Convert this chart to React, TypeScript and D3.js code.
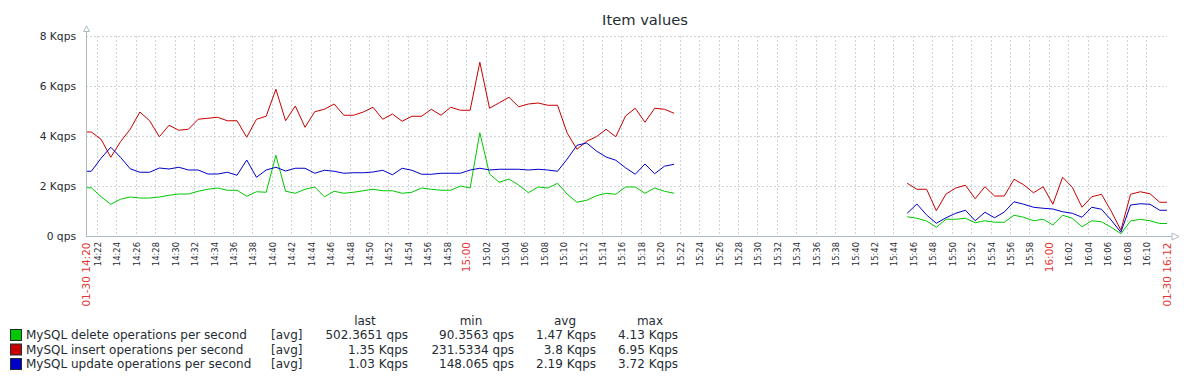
import React from "react";
import * as d3 from "d3";

const TITLE = "Item values";
const SERIES_NAMES = [
  "MySQL delete operations per second",
  "MySQL insert operations per second",
  "MySQL update operations per second",
];
const SERIES_COLORS = ["#00C800", "#C80000", "#0000C8"];
const LEGEND_FUNC = ["[avg]", "[avg]", "[avg]"];
const LEGEND_HEADERS = ["last", "min", "avg", "max"];
const STAT_LAST = ["502.3651 qps", "1.35 Kqps", "1.03 Kqps"];
const STAT_MIN = ["90.3563 qps", "231.5334 qps", "148.065 qps"];
const STAT_AVG = ["1.47 Kqps", "3.8 Kqps", "2.19 Kqps"];
const STAT_MAX = ["4.13 Kqps", "6.95 Kqps", "3.72 Kqps"];

const VIEW_START = new Date(2024, 0, 30, 14, 20, 52);
const VIEW_END = new Date(2024, 0, 30, 16, 12, 10);
const SEG1_START = new Date(2024, 0, 30, 14, 21, 25);
const SEG2_START = new Date(2024, 0, 30, 15, 45, 25);

// values in Kqps, one per minute
const deleteSeg1 = [1.93, 1.57, 1.27, 1.47, 1.56, 1.52, 1.52, 1.56, 1.63, 1.68, 1.68, 1.79, 1.87, 1.92, 1.83, 1.83, 1.59, 1.77, 1.75, 3.23, 1.79, 1.71, 1.87, 1.96, 1.57, 1.79, 1.71, 1.75, 1.81, 1.87, 1.81, 1.81, 1.71, 1.75, 1.92, 1.87, 1.83, 1.83, 2.0, 1.92, 4.13, 2.48, 2.15, 2.28, 2.04, 1.73, 1.96, 1.92, 2.11, 1.67, 1.35, 1.43, 1.61, 1.71, 1.67, 1.96, 1.96, 1.71, 1.92, 1.79, 1.71];
const insertSeg1 = [4.16, 3.87, 3.15, 3.77, 4.27, 4.96, 4.61, 3.97, 4.43, 4.23, 4.27, 4.67, 4.71, 4.75, 4.61, 4.61, 3.95, 4.67, 4.79, 5.87, 4.61, 5.2, 4.35, 4.97, 5.07, 5.28, 4.83, 4.83, 4.96, 5.15, 4.67, 4.88, 4.59, 4.79, 4.79, 5.07, 4.83, 5.15, 5.03, 5.03, 6.95, 5.11, 5.33, 5.55, 5.17, 5.28, 5.32, 5.23, 5.23, 4.11, 3.47, 3.79, 3.97, 4.27, 3.97, 4.8, 5.11, 4.55, 5.11, 5.07, 4.91];
const updateSeg1 = [2.59, 3.11, 3.55, 3.15, 2.69, 2.55, 2.55, 2.72, 2.68, 2.75, 2.64, 2.64, 2.48, 2.48, 2.55, 2.43, 3.04, 2.35, 2.64, 2.75, 2.6, 2.71, 2.71, 2.51, 2.63, 2.59, 2.51, 2.53, 2.53, 2.56, 2.63, 2.45, 2.71, 2.63, 2.47, 2.47, 2.51, 2.51, 2.51, 2.64, 2.71, 2.64, 2.67, 2.67, 2.67, 2.64, 2.67, 2.64, 2.59, 3.08, 3.63, 3.72, 3.4, 3.16, 3.03, 2.73, 2.47, 2.88, 2.49, 2.79, 2.87];

const deleteSeg2 = [0.77, 0.71, 0.6, 0.35, 0.67, 0.67, 0.71, 0.53, 0.61, 0.55, 0.55, 0.83, 0.75, 0.61, 0.67, 0.44, 0.83, 0.71, 0.37, 0.61, 0.57, 0.35, 0.09, 0.6, 0.67, 0.61, 0.5];
const insertSeg2 = [2.11, 1.87, 1.87, 1.01, 1.68, 1.92, 2.03, 1.49, 1.97, 1.6, 1.6, 2.27, 2.05, 1.73, 1.97, 1.27, 2.35, 1.95, 1.15, 1.57, 1.67, 1.0, 0.23, 1.67, 1.77, 1.69, 1.35];
const updateSeg2 = [0.91, 1.28, 0.84, 0.51, 0.73, 0.91, 1.03, 0.61, 0.95, 0.73, 0.96, 1.37, 1.27, 1.15, 1.11, 1.08, 0.97, 0.91, 0.75, 1.15, 1.07, 0.64, 0.15, 1.24, 1.29, 1.27, 1.03];

const SEG1 = [deleteSeg1, insertSeg1, updateSeg1];
const SEG2 = [deleteSeg2, insertSeg2, updateSeg2];

const Y_TICKS = [0, 2, 4, 6, 8];
const Y_LABELS = ["0 qps", "2 Kqps", "4 Kqps", "6 Kqps", "8 Kqps"];

const W = 1198;
const H = 382;
const PLOT = { left: 86, right: 1167, top: 36, bottom: 236 };
const FONT = "'DejaVu Sans', Verdana, sans-serif";
const TEXT = "#1F2C33";
const RED = "#E33734";
const GRID = "#CCD5D9";
const AXIS = "#ACBBC2";

type Pt = { t: Date; v: number | null };

export default function App() {
  const x = d3.scaleTime().domain([VIEW_START, VIEW_END]).range([PLOT.left, PLOT.right]);
  const y = d3.scaleLinear().domain([0, 8]).range([PLOT.bottom, PLOT.top]);

  const minute = 60000;
  const series: Pt[][] = SEG1.map((s1, i) => {
    const s2 = SEG2[i];
    const pts: Pt[] = [];
    pts.push({ t: VIEW_START, v: s1[0] });
    s1.forEach((v, k) => pts.push({ t: new Date(SEG1_START.getTime() + k * minute), v }));
    pts.push({ t: new Date(SEG1_START.getTime() + s1.length * minute), v: null });
    s2.forEach((v, k) => pts.push({ t: new Date(SEG2_START.getTime() + k * minute), v }));
    pts.push({ t: VIEW_END, v: s2[s2.length - 1] });
    return pts;
  });

  const line = d3
    .line<Pt>()
    .defined((d) => d.v !== null)
    .x((d) => x(d.t))
    .y((d) => y(d.v as number));

  const gridTimes = d3.timeMinute.every(2)!.range(
    new Date(VIEW_START.getTime() + 1000),
    new Date(VIEW_END.getTime() - 30000)
  );
  const fmt = d3.timeFormat("%H:%M");
  const fmtFull = d3.timeFormat("%m-%d %H:%M");

  const drawOrder = [0, 1, 2];

  const legendRowY = [335, 349.5, 364];
  const colRight = [408, 514, 596, 678];
  const headerX = [365, 471, 565, 650];
  const stats = [STAT_LAST, STAT_MIN, STAT_AVG, STAT_MAX];

  return (
    <svg width={W} height={H} style={{ position: "absolute", left: 0, top: 0, background: "#fff" }} fontFamily={FONT}>
      <rect x={0} y={0} width={W} height={H} fill="#fff" />
      <text x={645} y={19} textAnchor="middle" dominantBaseline="central" fontSize={14.7} fill={TEXT}>
        {TITLE}
      </text>

      {/* horizontal grid */}
      {Y_TICKS.filter((v) => v > 0).map((v) => (
        <line key={"hg" + v} x1={PLOT.left} x2={PLOT.right} y1={y(v) + 0.5} y2={y(v) + 0.5} stroke={GRID} strokeDasharray="2,2" />
      ))}
      {/* vertical grid */}
      {gridTimes.map((t) => (
        <line key={"vg" + t.getTime()} x1={Math.round(x(t)) + 0.5} x2={Math.round(x(t)) + 0.5} y1={PLOT.top} y2={PLOT.bottom} stroke={GRID} strokeDasharray="2,2" />
      ))}

      {/* y labels */}
      {Y_TICKS.map((v, i) => (
        <text key={"yl" + v} x={76} y={y(v)} textAnchor="end" dominantBaseline="central" fontSize={10.7} fill={TEXT}>
          {Y_LABELS[i]}
        </text>
      ))}

      {/* x labels */}
      {gridTimes.map((t) => {
        const major = t.getMinutes() === 0;
        const xx = Math.round(x(t)) + 0.5;
        return (
          <text
            key={"xl" + t.getTime()}
            transform={`translate(${xx},242) rotate(-90)`}
            textAnchor="end"
            dy="0.36em"
            fontSize={major ? 10.5 : 8.4}
            fill={major ? RED : TEXT}
          >
            {fmt(t)}
          </text>
        );
      })}
      <text transform={`translate(${PLOT.left},242.5) rotate(-90)`} textAnchor="end" dy="0.36em" fontSize={10.5} fill={RED}>
        {fmtFull(VIEW_START)}
      </text>
      <text transform={`translate(${PLOT.right},242.5) rotate(-90)`} textAnchor="end" dy="0.36em" fontSize={10.5} fill={RED}>
        {fmtFull(VIEW_END)}
      </text>

      {/* series */}
      {drawOrder.map((i) => (
        <path key={"s" + i} d={line(series[i]) || ""} fill="none" stroke={SERIES_COLORS[i]} strokeWidth={1} />
      ))}

      {/* axes */}
      <line x1={PLOT.left + 0.5} x2={PLOT.left + 0.5} y1={31} y2={PLOT.bottom + 0.5} stroke={AXIS} />
      <path d={`M${PLOT.left + 0.5 - 3},31.5 L${PLOT.left + 0.5},26 L${PLOT.left + 0.5 + 3},31.5 Z`} fill="#fff" stroke={AXIS} />
      <line x1={PLOT.left} x2={1172} y1={PLOT.bottom + 0.5} y2={PLOT.bottom + 0.5} stroke={AXIS} />
      <path d={`M1172,${PLOT.bottom + 0.5 - 3.5} L1179,${PLOT.bottom + 0.5} L1172,${PLOT.bottom + 0.5 + 3.5} Z`} fill="#fff" stroke={AXIS} />

      {/* legend */}
      {LEGEND_HEADERS.map((h, j) => (
        <text key={"lh" + j} x={headerX[j]} y={321} textAnchor="middle" dominantBaseline="central" fontSize={12} fill={TEXT}>
          {h}
        </text>
      ))}
      {SERIES_NAMES.map((name, i) => (
        <g key={"lg" + i}>
          <rect x={10.5} y={legendRowY[i] - 5.5} width={11} height={11} fill={SERIES_COLORS[i]} stroke="#1F2C33" />
          <text x={26} y={legendRowY[i]} dominantBaseline="central" fontSize={12} fill={TEXT}>
            {name}
          </text>
          <text x={271} y={legendRowY[i]} dominantBaseline="central" fontSize={12} fill={TEXT}>
            {LEGEND_FUNC[i]}
          </text>
          {stats.map((col, j) => (
            <text key={"st" + j} x={colRight[j]} y={legendRowY[i]} textAnchor="end" dominantBaseline="central" fontSize={12} fill={TEXT}>
              {col[i]}
            </text>
          ))}
        </g>
      ))}
    </svg>
  );
}
